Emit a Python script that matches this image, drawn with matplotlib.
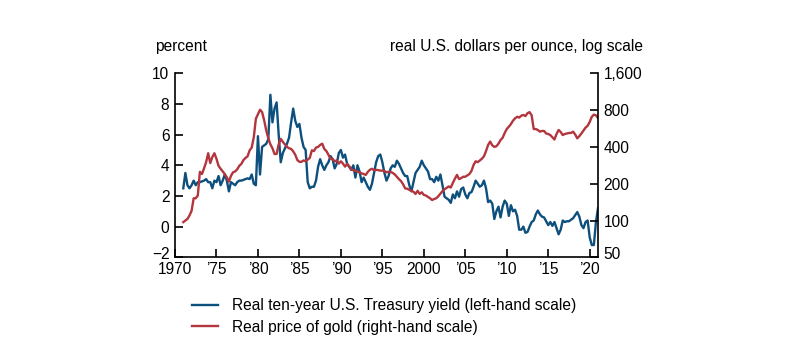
import numpy as np
import matplotlib
matplotlib.use("Agg")
import matplotlib.pyplot as plt
import matplotlib.transforms as mtransforms
from matplotlib.ticker import FixedLocator, NullLocator
from matplotlib.lines import Line2D

plt.rcParams['font.family'] = ['Liberation Sans', 'DejaVu Sans']

# ---- data (quarterly, starting 1971Q1) ----
start_year = 1971.0
step = 0.25

real_yield = [
    2.5, 3.5, 2.7, 2.5,      # 1971
    2.7, 3.0, 2.7, 2.9,      # 1972
    2.9, 2.95, 3.0, 3.1,     # 1973
    2.9, 2.9, 2.5, 3.0,      # 1974
    2.9, 3.3, 2.7, 3.0,      # 1975
    3.4, 3.0, 2.3, 2.9,      # 1976
    2.8, 2.7, 2.9, 3.0,      # 1977
    3.0, 3.05, 3.1, 3.15,    # 1978
    3.1, 3.4, 2.8, 2.7,      # 1979
    5.9, 3.4, 5.2, 5.3,      # 1980
    5.4, 5.7, 8.6, 6.8,      # 1981
    7.7, 8.1, 6.0, 4.2,      # 1982
    4.8, 5.1, 5.4, 5.8,      # 1983
    6.8, 7.7, 6.9, 6.5,      # 1984
    6.7, 5.8, 5.2, 5.0,      # 1985
    2.9, 2.5, 2.6, 2.6,      # 1986
    3.0, 3.9, 4.4, 4.0,      # 1987
    3.7, 4.0, 4.2, 4.6,      # 1988
    4.4, 3.8, 4.1, 4.8,      # 1989
    5.0, 4.5, 4.7, 4.1,      # 1990
    3.9, 3.7, 4.0, 3.2,      # 1991
    4.0, 3.6, 2.9, 3.2,      # 1992
    2.9, 2.6, 2.4, 2.8,      # 1993
    3.5, 4.2, 4.6, 4.7,      # 1994
    4.2, 3.5, 3.0, 3.3,      # 1995
    3.8, 4.0, 3.9, 4.3,      # 1996
    4.1, 3.8, 3.5, 3.3,      # 1997
    3.3, 2.7, 2.3, 2.9,      # 1998
    3.5, 3.7, 3.9, 4.3,      # 1999
    4.0, 3.8, 3.6, 3.1,      # 2000
    3.1, 2.9, 3.25, 3.0,     # 2001
    3.4, 2.7, 1.95, 1.85,    # 2002
    1.75, 1.55, 2.1, 1.85,   # 2003
    2.3, 1.95, 2.45, 2.55,   # 2004
    2.1, 1.85, 2.2, 2.25,    # 2005
    2.6, 3.0, 2.8, 2.6,      # 2006
    2.7, 3.0, 2.5, 1.6,      # 2007
    1.7, 1.5, 0.5, 1.0,      # 2008
    1.3, 0.6, 1.3, 1.7,      # 2009
    1.5, 0.7, 1.4, 1.0,      # 2010
    1.1, 0.7, -0.2, -0.2,    # 2011
    0.0, -0.4, -0.35, 0.0,   # 2012
    0.3, 0.4, 0.8, 1.05,     # 2013
    0.8, 0.65, 0.6, 0.35,    # 2014
    0.1, 0.3, 0.05, 0.3,     # 2015
    -0.1, -0.5, -0.2, 0.4,   # 2016
    0.3, 0.35, 0.35, 0.45,   # 2017
    0.55, 0.75, 0.95, 0.65,  # 2018
    0.1, -0.1, 0.3, 0.4,     # 2019
    -0.7, -1.2, -1.2, 0.3,   # 2020
    1.2,                     # 2021
]

gold_real = [
    97, 100, 103, 110,       # 1971
    120, 152, 152, 160,      # 1972
    250, 240, 267, 300,      # 1973
    355, 295, 330, 355,      # 1974
    320, 280, 265, 252,      # 1975
    240, 225, 208, 232,      # 1976
    248, 252, 262, 280,      # 1977
    290, 312, 325, 335,      # 1978
    375, 395, 480, 680,      # 1979
    740, 805, 770, 660,      # 1980
    545, 470, 420, 390,      # 1981
    350, 350, 420, 465,      # 1982
    440, 420, 400, 390,      # 1983
    385, 368, 345, 312,      # 1984
    302, 302, 310, 305,      # 1985
    315, 325, 375, 370,      # 1986
    395, 400, 415, 425,      # 1987
    385, 370, 345, 320,      # 1988
    318, 305, 310, 292,      # 1989
    305, 292, 276, 290,      # 1990
    278, 262, 258, 256,      # 1991
    251, 248, 243, 240,      # 1992
    236, 250, 260, 265,      # 1993
    258, 260, 258, 256,      # 1994
    256, 254, 248, 250,      # 1995
    250, 245, 238, 228,      # 1996
    218, 210, 198, 183,      # 1997
    182, 178, 175, 172,      # 1998
    165, 175, 165, 170,      # 1999
    162, 160, 156, 152,      # 2000
    147, 150, 152, 158,      # 2001
    166, 174, 180, 185,      # 2002
    190, 186, 203, 220,      # 2003
    236, 218, 222, 228,      # 2004
    228, 234, 240, 255,      # 2005
    285, 305, 300, 310,      # 2006
    320, 335, 370, 415,      # 2007
    442, 412, 400, 405,      # 2008
    425, 455, 475, 520,      # 2009
    560, 585, 615, 655,      # 2010
    685, 705, 695, 720,      # 2011
    730, 715, 755, 770,      # 2012
    725, 560, 560, 550,      # 2013
    533, 540, 540, 515,      # 2014
    510, 500, 480, 460,      # 2015
    510, 550, 530, 500,      # 2016
    510, 515, 520, 520,      # 2017
    533, 505, 470, 490,      # 2018
    515, 545, 575, 595,      # 2019
    640, 705, 735, 725,      # 2020
    690,                     # 2021
]

x_ticks = [1970, 1975, 1980, 1985, 1990, 1995, 2000, 2005, 2010, 2015, 2020]
x_labels = ['1970', '\u201975', '\u201980', '\u201985', '\u201990', '\u201995',
            '2000', '\u201905', '\u201910', '\u201915', '\u201920']
left_ticks = [-2, 0, 2, 4, 6, 8, 10]
right_ticks = [50, 100, 200, 400, 800, 1600]
right_labels = ['50', '100', '200', '400', '800', '1,600']

series_labels = ['Real ten-year U.S. Treasury yield (left-hand scale)',
                 'Real price of gold (right-hand scale)']

BLUE = '#0d4f7d'
RED = '#b3353d'
FS = 11.2

dates = start_year + step * np.arange(len(real_yield))

fig = plt.figure(figsize=(8.0, 3.63), dpi=100)
ax = fig.add_axes([175 / 800, 1 - 257.3 / 363, 423 / 800, 184 / 363])
ax2 = ax.twinx()

ax.plot(dates, real_yield, color=BLUE, lw=1.7, solid_joinstyle='round')
ax2.plot(dates, gold_real, color=RED, lw=1.7, solid_joinstyle='round')

ax.set_xlim(1970, 2021)
ax.set_ylim(-2, 10)
ax2.set_yscale('log')
ax2.set_ylim(50, 1600)

ax.xaxis.set_major_locator(FixedLocator(x_ticks))
ax.set_xticklabels(x_labels)
ax.yaxis.set_major_locator(FixedLocator(left_ticks))
ax.set_yticklabels(['\u22122' if t < 0 else str(t) for t in left_ticks])
ax2.yaxis.set_major_locator(FixedLocator(right_ticks))
ax2.yaxis.set_minor_locator(NullLocator())
ax2.set_yticklabels(right_labels)

for a in (ax, ax2):
    a.spines['top'].set_visible(False)
    for s in a.spines.values():
        s.set_linewidth(1.2)
    a.tick_params(direction='in', length=6, width=1.2, labelsize=FS, pad=4,
                  color='black', labelcolor='black')
ax.tick_params(axis='x', pad=3.5)
ax2.spines['left'].set_visible(False)
ax2.spines['bottom'].set_visible(False)
ax.spines['right'].set_visible(False)

# lift the bottom-most y labels slightly, as in the reference
lift = mtransforms.ScaledTranslation(0, 4 / 100, fig.dpi_scale_trans)
ax.get_yticklabels()[0].set_transform(ax.get_yticklabels()[0].get_transform() + lift)
ax2.get_yticklabels()[0].set_transform(ax2.get_yticklabels()[0].get_transform() + lift)

fig.text(155 / 800, 1 - 47 / 363, 'percent', fontsize=FS, ha='left', va='center')
fig.text(643 / 800, 1 - 47 / 363, 'real U.S. dollars per ounce, log scale',
         fontsize=FS, ha='right', va='center')

handles = [Line2D([], [], color=BLUE, lw=1.7), Line2D([], [], color=RED, lw=1.7)]
fig.legend(handles, series_labels, loc='center left',
           bbox_to_anchor=(192 / 800, 1 - 316.5 / 363), frameon=False,
           fontsize=FS, borderpad=0, borderaxespad=0, handlelength=1.65,
           handletextpad=0.95, labelspacing=0.4)

fig.savefig('out.png', dpi=100)
